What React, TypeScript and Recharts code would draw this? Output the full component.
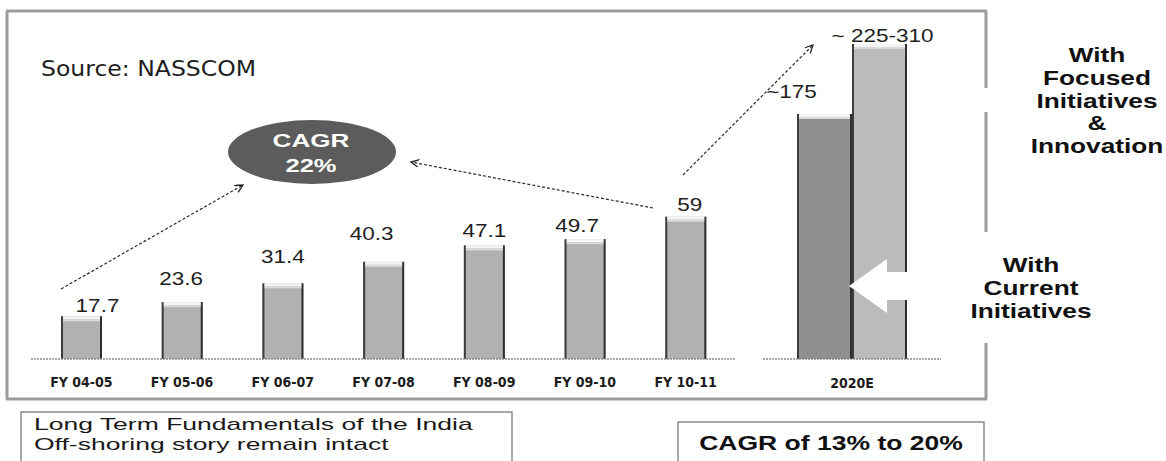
import React from 'react';
import { BarChart, Bar, XAxis, YAxis } from 'recharts';

const fyYears = ['FY 04-05', 'FY 05-06', 'FY 06-07', 'FY 07-08', 'FY 08-09', 'FY 09-10', 'FY 10-11'];
const revenue = [17.7, 23.6, 31.4, 40.3, 47.1, 49.7, 59];
const projYears = ['2020E'];
const projCurrent = [175];
const projFocused = [225];
const projLabels = ['~175', '~ 225-310'];
const sideFocused = ['With', 'Focused', 'Initiatives', '&', 'Innovation'];
const sideCurrent = ['With', 'Current', 'Initiatives'];

const histData = fyYears.map((name, i) => ({ name, value: revenue[i] }));
const projData = projYears.map((name, i) => ({ name, current: projCurrent[i], focused: projFocused[i] }));

// hand placed value labels in the source: [dx from bar centre, baseline offset from bar top]
const histNudge = [[16, -4], [-1, -17], [0, -20], [-12, -22], [0, -8], [-8, -7], [4, -6]];
const projNudge = [[-33, -16], [3, -2]];

const ARIAL = '"Liberation Sans", Arial, sans-serif';
const tickFont = {
  fill: '#1c1c1c',
  fontSize: 14,
  fontWeight: 700,
  fontFamily: '"DejaVu Sans Condensed", "DejaVu Sans", sans-serif',
};
const axisLine = { stroke: '#8a8a8a', strokeWidth: 1.5, strokeDasharray: '2 1' };

// the scan is stretched sideways, so text is widened with scaleX
const StretchText = ({ x, y, sx = 1, anchor = 'middle', children, ...rest }: any) => (
  <text transform={`translate(${x},${y}) scale(${sx},1)`} textAnchor={anchor} {...rest}>
    {children}
  </text>
);

const GlossBar = (props: any) => {
  const { x, y, width, height, fill, text, nudge } = props;
  if (!height || height <= 0) return null;
  return (
    <g>
      <rect x={x} y={y} width={width} height={height} fill={fill} />
      <rect x={x} y={y} width={2} height={height} fill="#3c3c3c" />
      <rect x={x + width - 2} y={y} width={2} height={height} fill="#2f2f2f" />
      <rect x={x + 2} y={y} width={width - 4} height={3} fill="#f4f4f4" />
      <rect x={x + 2} y={y + 3} width={width - 4} height={2} fill="#dadada" />
      {text != null && (
        <StretchText
          x={x + width / 2 + nudge[0]}
          y={y + nudge[1]}
          sx={1.25}
          fontSize={18}
          fontFamily={ARIAL}
          fill="#1e1e1e"
        >
          {text}
        </StretchText>
      )}
    </g>
  );
};

const App: React.FC = () => {
  return (
    <div
      style={{
        position: 'absolute',
        left: 0,
        top: 0,
        width: 1166,
        height: 461,
        background: '#fff',
        overflow: 'hidden',
      }}
    >
      <div style={{ position: 'absolute', left: 0, top: 0 }}>
        <BarChart width={760} height={400} data={histData} margin={{ top: 19, right: 24, bottom: 0, left: 31 }}>
          <XAxis
            dataKey="name"
            height={41}
            tickLine={false}
            tickSize={0}
            tickMargin={18}
            axisLine={axisLine}
            tick={tickFont}
            interval={0}
          />
          <YAxis hide domain={[0, 141]} />
          <Bar
            dataKey="value"
            barSize={41}
            isAnimationActive={false}
            shape={(p: any) => (
              <GlossBar {...p} fill="#b1b1b1" text={String(revenue[p.index])} nudge={histNudge[p.index]} />
            )}
          />
        </BarChart>
      </div>

      <div style={{ position: 'absolute', left: 740, top: 0 }}>
        <BarChart
          width={220}
          height={400}
          data={projData}
          barGap={0}
          margin={{ top: 9, right: 19, bottom: 0, left: 23 }}
        >
          <XAxis
            dataKey="name"
            height={41}
            tickLine={false}
            tickSize={0}
            tickMargin={19}
            axisLine={axisLine}
            tick={{ ...tickFont, fontWeight: 600 }}
          />
          <YAxis hide domain={[0, 250]} />
          <Bar
            dataKey="current"
            barSize={55}
            isAnimationActive={false}
            shape={(p: any) => <GlossBar {...p} fill="#8f8f8f" text={projLabels[0]} nudge={projNudge[0]} />}
          />
          <Bar
            dataKey="focused"
            barSize={55}
            isAnimationActive={false}
            shape={(p: any) => <GlossBar {...p} fill="#bbbbbb" text={projLabels[1]} nudge={projNudge[1]} />}
          />
        </BarChart>
      </div>

      <svg width={1166} height={461} style={{ position: 'absolute', left: 0, top: 0, pointerEvents: 'none' }}>
        <defs>
          <marker
            id="openHead"
            markerWidth={10}
            markerHeight={10}
            refX={8}
            refY={4}
            orient="auto"
            markerUnits="userSpaceOnUse"
          >
            <path d="M0,0 L8,4 L0,8" fill="none" stroke="#222" strokeWidth={1.3} />
          </marker>
        </defs>

        {/* outer frame, broken on the right by the side labels */}
        <g stroke="#9c9c9c" strokeWidth={3}>
          <line x1={6} y1={11} x2={987} y2={11} />
          <line x1={7} y1={11} x2={7} y2={399} />
          <line x1={6} y1={399} x2={987} y2={399} />
          <line x1={986} y1={11} x2={986} y2={88} />
          <line x1={986} y1={112} x2={986} y2={232} />
          <line x1={986} y1={343} x2={986} y2={399} />
        </g>

        <StretchText x={41} y={76} anchor="start" sx={1.07} fontSize={22} fontFamily='"DejaVu Sans", sans-serif' fill="#1e1e1e">
          Source: NASSCOM
        </StretchText>

        {/* CAGR bubble and dashed arrows */}
        <ellipse cx={312} cy={152} rx={84} ry={32} fill="#5c5c5c" />
        <StretchText x={311} y={147} sx={1.45} fontSize={18} fontWeight={700} fontFamily={ARIAL} fill="#fff">
          CAGR
        </StretchText>
        <StretchText x={311} y={172} sx={1.42} fontSize={18} fontWeight={700} fontFamily={ARIAL} fill="#fff">
          22%
        </StretchText>
        <g stroke="#2a2a2a" strokeWidth={1.2} strokeDasharray="3 2" fill="none">
          <line x1={61} y1={289} x2={243} y2={185} markerEnd="url(#openHead)" />
          <line x1={653} y1={208} x2={411} y2={162} markerEnd="url(#openHead)" />
          <line x1={683} y1={175} x2={813} y2={45} markerEnd="url(#openHead)" />
        </g>

        {/* white pointer onto the 2020E bars */}
        <polygon points="849,286 887,259 887,272 962,272 962,300 887,300 887,313" fill="#fff" />

        {sideFocused.map((t, i) => (
          <StretchText key={'f' + i} x={1097} y={62 + i * 22.8} sx={1.25} fontSize={21} fontWeight={700} fontFamily={ARIAL} fill="#111">
            {t}
          </StretchText>
        ))}
        {sideCurrent.map((t, i) => (
          <StretchText key={'c' + i} x={1031} y={272 + i * 23.2} sx={1.25} fontSize={21} fontWeight={700} fontFamily={ARIAL} fill="#111">
            {t}
          </StretchText>
        ))}

        {/* bottom call-out boxes */}
        <rect x={21} y={412} width={491} height={60} fill="none" stroke="#7a7a7a" strokeWidth={1.3} />
        <StretchText x={34} y={430} anchor="start" sx={1.56} fontSize={17} fontFamily={ARIAL} fill="#1a1a1a">
          Long Term Fundamentals of the India
        </StretchText>
        <StretchText x={34} y={450} anchor="start" sx={1.56} fontSize={17} fontFamily={ARIAL} fill="#1a1a1a">
          Off-shoring story remain intact
        </StretchText>
        <rect x={678} y={422} width={306} height={50} fill="none" stroke="#7a7a7a" strokeWidth={1.3} />
        <StretchText x={831} y={450} sx={1.36} fontSize={19.5} fontWeight={700} fontFamily={ARIAL} fill="#111">
          CAGR of 13% to 20%
        </StretchText>
      </svg>
    </div>
  );
};

export default App;
